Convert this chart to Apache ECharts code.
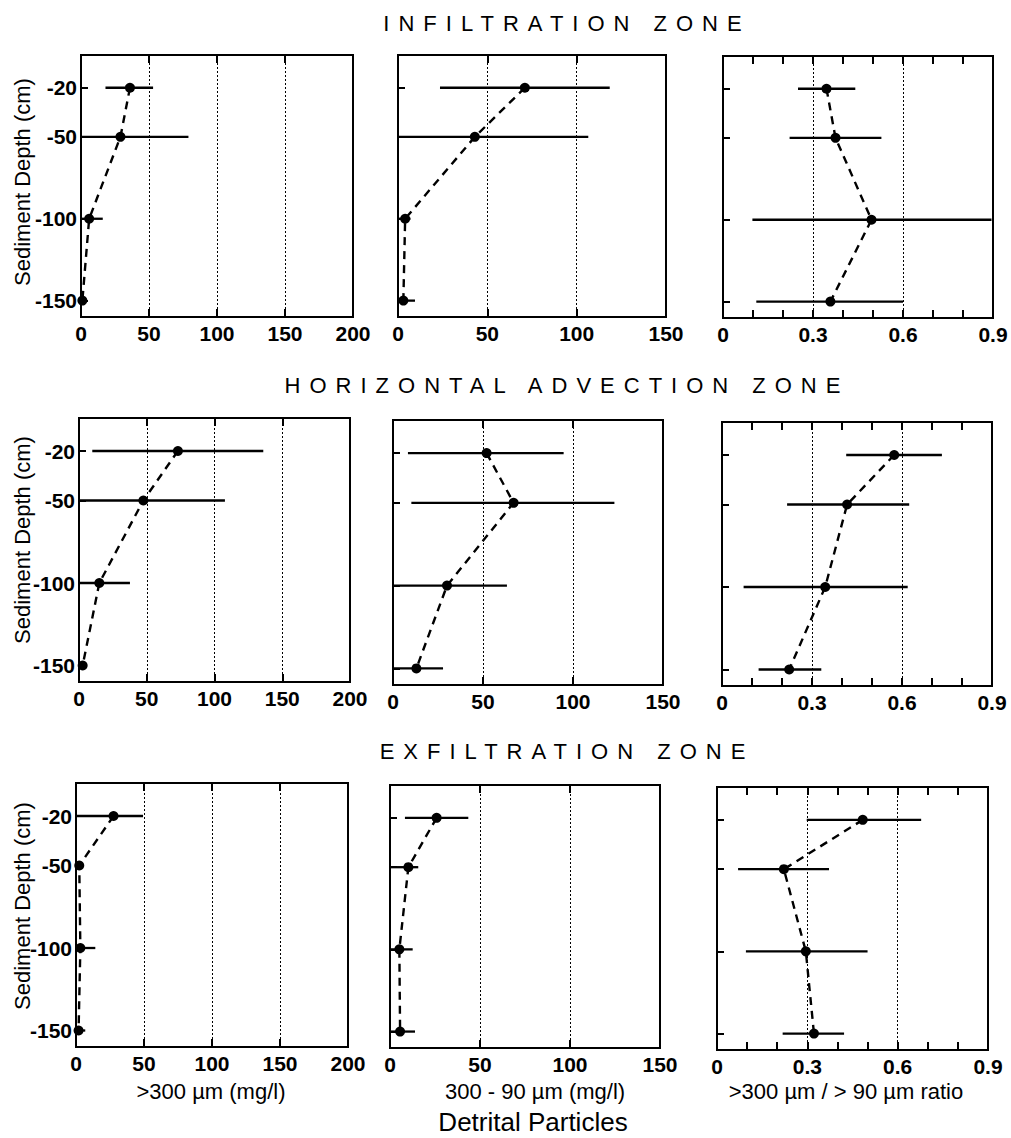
<!DOCTYPE html>
<html>
<head>
<meta charset="utf-8">
<script src="https://cdn.jsdelivr.net/npm/echarts@6/dist/echarts.min.js"></script>
<style>
html,body{margin:0;padding:0;background:#fff;}
#chart{width:1011px;height:1138px;}
</style>
</head>
<body>
<div id="chart"></div>
<script>
// ---------- DATA ----------
const depths = [-20, -50, -100, -150];
const depthTicks = [-20, -50, -100, -150];
const zoneTitles = ['INFILTRATION ZONE', 'HORIZONTAL ADVECTION ZONE', 'EXFILTRATION ZONE'];
const axisTitles = ['>300 \u00b5m (mg/l)', '300 - 90 \u00b5m (mg/l)', '>300 \u00b5m / > 90 \u00b5m ratio'];
const yTitle = 'Sediment Depth (cm)';
const bottomTitle = 'Detrital Particles';
const massLabels200 = [0, 50, 100, 150, 200];
const massLabels150 = [0, 50, 100, 150];
const ratioLabels = [0, 0.3, 0.6, 0.9];
const massGrid200 = [50, 100, 150];
const massGrid150 = [50, 100];
const ratioGrid = [0.3, 0.6];
const massTicks200 = [50, 100, 150];
const massTicks150 = [50, 100];
const ratioTicks = [0.1, 0.2, 0.3, 0.4, 0.5, 0.6, 0.7, 0.8];

// Infiltration zone
const infCoarse   = [36, 29, 6, 1];
const infCoarseLo = [18, 0, 0, 0];
const infCoarseHi = [53, 79, 16, 2.5];
const infFine     = [71, 43, 4, 3];
const infFineLo   = [23.5, 0, 0, 0];
const infFineHi   = [118.5, 106.5, 7, 9.5];
const infRatio    = [0.345, 0.375, 0.495, 0.358];
const infRatioLo  = [0.25, 0.222, 0.098, 0.111];
const infRatioHi  = [0.441, 0.528, 0.895, 0.6];
// Horizontal advection zone
const horCoarse   = [73, 47.5, 15, 2.7];
const horCoarseLo = [9.8, 0, 0, 0];
const horCoarseHi = [136, 107.7, 37.6, 5.5];
const horFine     = [52, 67, 30, 13];
const horFineLo   = [8.3, 10.2, 0, 0];
const horFineHi   = [94.8, 123, 63.3, 27.8];
const horRatio    = [0.574, 0.417, 0.344, 0.224];
const horRatioLo  = [0.414, 0.217, 0.072, 0.122];
const horRatioHi  = [0.733, 0.624, 0.619, 0.331];
// Exfiltration zone
const exfCoarse   = [27.6, 2.4, 3.2, 1.9];
const exfCoarseLo = [0, 0, 0, 0];
const exfCoarseHi = [49.3, 4, 14.2, 6.8];
const exfFine     = [25.9, 10.2, 5.2, 5.6];
const exfFineLo   = [8.3, 0, 0, 0];
const exfFineHi   = [43.5, 15.7, 12.6, 13.9];
const exfRatio    = [0.484, 0.222, 0.295, 0.322];
const exfRatioLo  = [0.298, 0.07, 0.096, 0.218];
const exfRatioHi  = [0.678, 0.372, 0.5, 0.422];

const panels = [
  [infCoarse, infCoarseLo, infCoarseHi], [infFine, infFineLo, infFineHi], [infRatio, infRatioLo, infRatioHi],
  [horCoarse, horCoarseLo, horCoarseHi], [horFine, horFineLo, horFineHi], [horRatio, horRatioLo, horRatioHi],
  [exfCoarse, exfCoarseLo, exfCoarseHi], [exfFine, exfFineLo, exfFineHi], [exfRatio, exfRatioLo, exfRatioHi]
];
const xScales = [
  {max: 200, interval: 50, labels: massLabels200, grid: massGrid200, ticks: massTicks200},
  {max: 150, interval: 50, labels: massLabels150, grid: massGrid150, ticks: massTicks150},
  {max: 0.9, interval: 0.1, labels: ratioLabels, grid: ratioGrid, ticks: ratioTicks}
];
const yMin = -160, yMax = 0;

// ---------- LAYOUT ----------
const rects = [
  [81, 55, 272, 262], [398, 55, 268, 262], [723, 56, 270, 262],
  [79, 418, 271, 264], [393, 420, 270, 265], [722, 422, 270, 264],
  [76, 783, 272, 264], [390, 785, 270, 263], [717, 787, 271, 263]
];
const tickLenPx = 8;
const tickFont = {fontFamily: 'Liberation Sans Narrow, Liberation Sans, Arial', fontSize: 21, fontWeight: 'bold', color: '#000'};
const labelFont = 'Liberation Sans, Arial';

const grid = [], xAxis = [], yAxis = [], series = [];
rects.forEach((r, i) => {
  const col = i % 3;
  const sc = xScales[col];
  grid.push({left: r[0], top: r[1], width: r[2], height: r[3], show: true, borderColor: '#000', borderWidth: 2, backgroundColor: 'transparent'});
  xAxis.push({
    type: 'value', gridIndex: i, min: 0, max: sc.max, interval: sc.interval, position: 'bottom',
    axisLine: {show: true, onZero: false, lineStyle: {color: '#000', width: 2}},
    axisTick: {show: false},
    axisLabel: Object.assign({show: true, margin: 6, customValues: sc.labels, formatter: v => String(+(+v).toFixed(1))}, tickFont),
    splitLine: {show: false}
  });
  yAxis.push({
    type: 'value', gridIndex: i, min: yMin, max: yMax, interval: 10,
    axisLine: {show: true, onZero: false, lineStyle: {color: '#000', width: 2}},
    axisTick: {show: true, inside: true, length: 7, customValues: depthTicks, lineStyle: {color: '#000', width: 2}},
    axisLabel: Object.assign({show: col === 0, margin: 4, customValues: depthTicks}, tickFont),
    splitLine: {show: false}
  });
  const tickUnits = tickLenPx * (yMax - yMin) / r[3];
  const tickStyle = {color: '#000', width: 2, type: 'solid'};
  const markData = sc.grid.map(v => ({xAxis: v}));
  sc.ticks.forEach(v => {
    markData.push([{coord: [v, yMin], lineStyle: tickStyle}, {coord: [v, yMin + tickUnits]}]);
    markData.push([{coord: [v, yMax], lineStyle: tickStyle}, {coord: [v, yMax - tickUnits]}]);
  });
  const [vals, lo, hi] = panels[i];
  series.push({
    type: 'custom', xAxisIndex: i, yAxisIndex: i, silent: true,
    data: depths.map((d, k) => [lo[k], hi[k], d]),
    encode: {x: [0, 1], y: 2},
    renderItem: (params, api) => {
      const a = api.coord([api.value(0), api.value(2)]);
      const b = api.coord([api.value(1), api.value(2)]);
      return {type: 'line', shape: {x1: a[0], y1: a[1], x2: b[0], y2: b[1]}, style: {stroke: '#000', lineWidth: 2.3}};
    },
    z: 3
  });
  series.push({
    type: 'line', xAxisIndex: i, yAxisIndex: i, silent: true,
    data: depths.map((d, k) => [vals[k], d]),
    symbol: 'circle', symbolSize: 10, showSymbol: true,
    itemStyle: {color: '#000'},
    lineStyle: {color: '#000', width: 2.4, type: [8, 6]},
    markLine: {
      silent: true, symbol: 'none', label: {show: false}, animation: false,
      lineStyle: {color: '#000', width: 1, type: [2, 2]},
      emphasis: {disabled: true},
      data: markData
    },
    z: 4
  });
});

const graphic = [];
const titleY = [23, 385, 751];
zoneTitles.forEach((t, r) => graphic.push({
  type: 'text', x: 567, y: titleY[r],
  style: {text: t, font: '22px ' + labelFont, fill: '#000', align: 'center', verticalAlign: 'middle'}
}));
const yTitleCenters = [182, 540, 906];
yTitleCenters.forEach(c => graphic.push({
  type: 'text', x: 22, y: c, rotation: Math.PI / 2,
  style: {text: yTitle, font: '22px ' + labelFont, fill: '#000', align: 'center', verticalAlign: 'middle'}
}));
const axisTitleX = [211, 535, 846];
axisTitles.forEach((t, c) => graphic.push({
  type: 'text', x: axisTitleX[c], y: 1091,
  style: {text: t, font: '22px ' + labelFont, fill: '#000', align: 'center', verticalAlign: 'middle'}
}));
graphic.push({
  type: 'text', x: 533, y: 1122,
  style: {text: bottomTitle, font: '26px ' + labelFont, fill: '#000', align: 'center', verticalAlign: 'middle'}
});

const chart = echarts.init(document.getElementById('chart'), null, {renderer: 'svg'});
chart.setOption({animation: false, backgroundColor: '#fff', grid, xAxis, yAxis, series, graphic});

function spaceTitles() {
  document.querySelectorAll('#chart text').forEach(el => {
    if (zoneTitles.indexOf(el.textContent) >= 0) {
      el.setAttribute('letter-spacing', '9');
    }
  });
}
chart.on('finished', spaceTitles);
spaceTitles();
</script>
</body>
</html>
